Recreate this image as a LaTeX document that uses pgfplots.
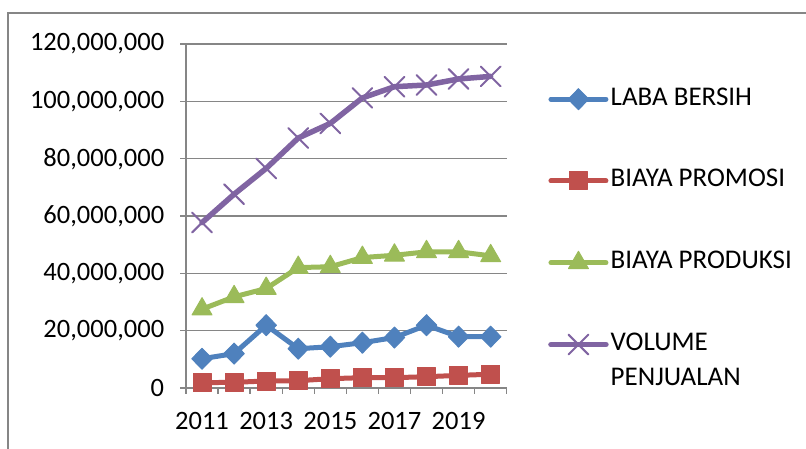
\documentclass[border=0pt]{standalone}
\usepackage{pgfplots}
\pgfplotsset{compat=1.18}
\usepackage{fontspec}
\setmainfont{Carlito}
\definecolor{cBlue}{HTML}{4F81BD}
\definecolor{cRed}{HTML}{C0504D}
\definecolor{cGreen}{HTML}{9BBB59}
\definecolor{cPurple}{HTML}{8064A2}
\definecolor{axgray}{HTML}{868686}
\begin{document}
\fontsize{26}{31}\selectfont
\begin{tikzpicture}
\path[use as bounding box] (0pt,0pt) rectangle (806pt,449pt);
\draw[color=axgray, line width=1.5pt] (8pt,-20pt) -- (8pt,436pt) -- (830pt,436pt);
\begin{axis}[
  at={(186pt,61pt)}, anchor=south west,
  scale only axis, width=320.7pt, height=344pt,
  xmin=2010.5, xmax=2020.5, ymin=0, ymax=120000000,
  clip=false, scaled y ticks=false, scaled x ticks=false,
  axis x line*=bottom, axis y line*=left,
  axis line style={color=axgray, line width=1.3pt},
  every outer x axis line/.append style={-}, every outer y axis line/.append style={-},
  tick style={color=axgray, line width=1.3pt},
  tick align=outside, major tick length=6pt,
  ymajorgrids, grid style={color=axgray, line width=1.3pt},
  ytick={0,20000000,40000000,60000000,80000000,100000000,120000000},
  yticklabels={0,{20,000,000},{40,000,000},{60,000,000},{80,000,000},{100,000,000},{120,000,000}},
  yticklabel style={font=\fontsize{26.5}{31}\selectfont, xshift=-7pt},
  xtick={2010.5,2011.5,2012.5,2013.5,2014.5,2015.5,2016.5,2017.5,2018.5,2019.5,2020.5},
  xticklabels={},
  extra x ticks={2011,2013,2015,2017,2019},
  extra x tick labels={2011,2013,2015,2017,2019},
  extra x tick style={major tick length=0pt, grid=none, xticklabel style={font=\fontsize{26.5}{31}\selectfont, yshift=-15pt}},
  legend cell align=left,
  legend style={at={(1.1288,0.8750)}, anchor=north west, draw=none, fill=none, inner sep=0pt,
    row sep=57.8pt, column sep=2pt, font=\fontsize{27}{31}\selectfont,
    nodes={inner sep=0pt, text height=18pt, text depth=6pt}},
  legend image code/.code={\draw[#1, mark repeat=2, mark phase=2] plot coordinates {(0pt,0pt) (27.5pt,0pt) (55pt,0pt)};},
  every axis plot/.append style={line join=round, line cap=round},
]
\addplot[color=cBlue, line width=5pt, mark=diamond*, mark size=10.5pt, mark options={xscale=1.3, line width=1pt, fill=cBlue}]
 coordinates {(2011,10200000) (2012,12000000) (2013,21900000) (2014,13700000) (2015,14400000) (2016,15800000) (2017,17600000) (2018,21900000) (2019,17900000) (2020,17900000)};
\addlegendentry{LABA BERSIH}
\addplot[color=cRed, line width=5pt, mark=square*, mark size=9pt, mark options={line width=1pt, fill=cRed}]
 coordinates {(2011,1850000) (2012,1980000) (2013,2440000) (2014,2550000) (2015,3250000) (2016,3600000) (2017,3600000) (2018,3940000) (2019,4400000) (2020,4800000)};
\addlegendentry{BIAYA PROMOSI}
\addplot[color=cGreen, line width=5pt, mark=triangle*, mark size=11.5pt, mark options={line width=1pt, fill=cGreen}]
 coordinates {(2011,27500000) (2012,31800000) (2013,34700000) (2014,42000000) (2015,42300000) (2016,45500000) (2017,46300000) (2018,47500000) (2019,47500000) (2020,46100000)};
\addlegendentry{BIAYA PRODUKSI}
\addplot[color=cPurple, line width=5.5pt, mark=x, mark size=14pt, mark options={line width=2pt}]
 coordinates {(2011,57700000) (2012,67600000) (2013,76600000) (2014,87200000) (2015,92300000) (2016,101200000) (2017,105100000) (2018,105700000) (2019,107800000) (2020,108700000)};
\addlegendentry{\makebox[0pt][l]{\raisebox{-35pt}[0pt][0pt]{PENJUALAN}}VOLUME}
\end{axis}
\end{tikzpicture}
\end{document}
